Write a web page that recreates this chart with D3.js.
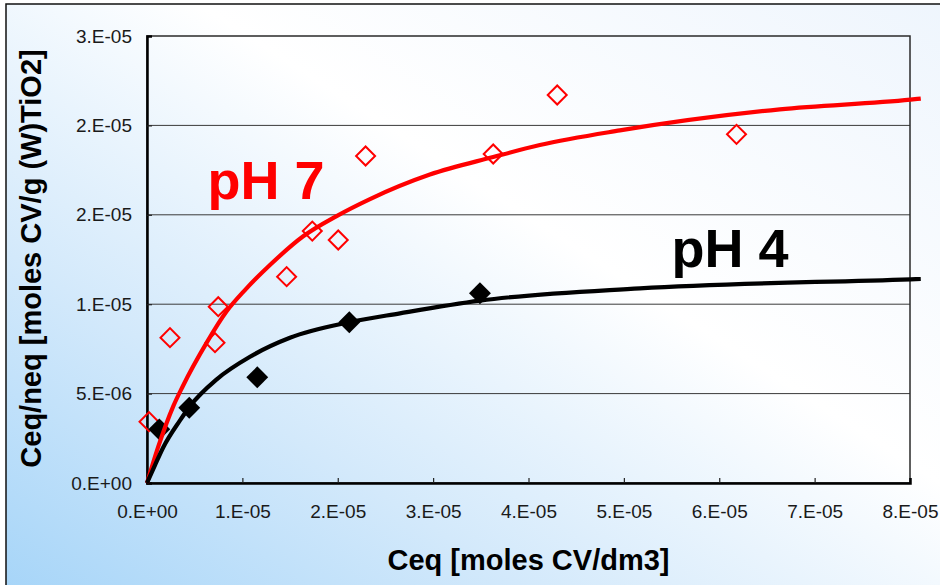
<!DOCTYPE html>
<html><head><meta charset="utf-8">
<script src="https://cdn.jsdelivr.net/npm/d3@7"></script>
<style>html,body{margin:0;padding:0;background:#fff;} svg{display:block;}</style>
</head><body><svg id="c" width="940" height="585"></svg>
<script>
// ---- data ----
const xTickValues = [0, 1e-5, 2e-5, 3e-5, 4e-5, 5e-5, 6e-5, 7e-5, 8e-5];
const xTickLabels = ["0.E+00","1.E-05","2.E-05","3.E-05","4.E-05","5.E-05","6.E-05","7.E-05","8.E-05"];
const yTickValues = [0, 5e-6, 1e-5, 1.5e-5, 2e-5, 2.5e-5];
const yTickLabels = ["0.E+00","5.E-06","1.E-05","2.E-05","2.E-05","3.E-05"];

// measured points, pH 7 (open red diamonds)
const ph7Ceq = [2.1e-7, 2.41e-6, 7.13e-6, 7.47e-6, 1.464e-5, 1.733e-5, 2.005e-5, 2.292e-5, 3.630e-5, 4.301e-5, 6.181e-5];
const ph7Q   = [3.43e-6, 8.13e-6, 7.85e-6, 9.86e-6, 1.154e-5, 1.409e-5, 1.359e-5, 1.829e-5, 1.840e-5, 2.170e-5, 1.950e-5];
// measured points, pH 4 (filled black diamonds)
const ph4Ceq = [1.29e-6, 4.43e-6, 1.156e-5, 2.121e-5, 3.491e-5];
const ph4Q   = [3.00e-6, 4.21e-6, 5.91e-6, 8.99e-6, 1.061e-5];

// fitted curves
const fit7Ceq = [0, 1.18e-6, 2.76e-6, 3.74e-6, 6.26e-6, 8.35e-6, 1.027e-5, 1.289e-5, 1.638e-5, 1.988e-5, 2.338e-5, 2.966e-5, 3.630e-5, 4.119e-5, 4.958e-5, 6.635e-5, 8.005e-5, 8.113e-5];
const fit7Q   = [0, 2.03e-6, 4.3e-6, 5.4e-6, 7.85e-6, 9.6e-6, 1.079e-5, 1.219e-5, 1.380e-5, 1.493e-5, 1.588e-5, 1.725e-5, 1.823e-5, 1.890e-5, 1.972e-5, 2.090e-5, 2.144e-5, 2.150e-5];
const fit4Ceq = [0, 8.4e-7, 1.71e-6, 3.46e-6, 4.51e-6, 7.31e-6, 1.080e-5, 1.499e-5, 2.121e-5, 2.652e-5, 3.491e-5, 5.168e-5, 8.005e-5, 8.113e-5];
const fit4Q   = [0, 1.0e-6, 2.0e-6, 3.5e-6, 4.3e-6, 5.8e-6, 7.06e-6, 8.12e-6, 8.99e-6, 9.49e-6, 1.020e-5, 1.089e-5, 1.139e-5, 1.141e-5];

const yTitle = "Ceq/neq [moles CV/g (W)TiO2]";
const xTitle = "Ceq [moles CV/dm3]";
const label7 = "pH 7";
const label4 = "pH 4";

// ---- drawing ----
const FONT = "'Liberation Sans', Arial, Helvetica, sans-serif";
const svg = d3.select("#c");
const defs = svg.append("defs");
const g = defs.append("linearGradient").attr("id","bg")
  .attr("x1",0).attr("y1",1).attr("x2",1).attr("y2",0);
[[0,"#a2d3f8"],[0.3,"#d3e9fb"],[0.6,"#ffffff"],[1,"#eef5fd"]].forEach(s=>
  g.append("stop").attr("offset",s[0]).attr("stop-color",s[1]));

svg.append("rect").attr("x",6).attr("y",4).attr("width",960).attr("height",620)
  .attr("fill","url(#bg)").attr("stroke","#111").attr("stroke-width",1.5);

const L = 147, R = 910, T = 36, B = 483;
const x = d3.scaleLinear().domain([0, 8e-5]).range([L, R]);
const y = d3.scaleLinear().domain([0, 2.5e-5]).range([B, T]);

// gridlines
svg.append("g").selectAll("line").data(yTickValues.slice(1, -1)).join("line")
  .attr("x1", L).attr("x2", R).attr("y1", d=>y(d)).attr("y2", d=>y(d))
  .attr("stroke", "#3a3a3a").attr("stroke-width", 1);

// plot border (top/right)
svg.append("rect").attr("x", L).attr("y", T).attr("width", R - L).attr("height", B - T)
  .attr("fill", "none").attr("stroke", "#2a2a2a").attr("stroke-width", 1.5);

// axes
const yAxis = d3.axisLeft(y).tickValues(yTickValues).tickFormat((d,i)=>yTickLabels[i])
  .tickSize(-5).tickPadding(15);
const xAxis = d3.axisBottom(x).tickValues(xTickValues).tickFormat((d,i)=>xTickLabels[i])
  .tickSize(-5).tickPadding(22);

const gy = svg.append("g").attr("transform", `translate(${L},0)`).call(yAxis);
const gx = svg.append("g").attr("transform", `translate(0,${B})`).call(xAxis);
[gx, gy].forEach(a => {
  a.select(".domain").attr("stroke", "#000").attr("stroke-width", 2.5);
  a.selectAll(".tick line").attr("stroke", "#222").attr("stroke-width", 1.2);
  a.selectAll(".tick text").attr("font-family", FONT).attr("font-size", 19).attr("fill", "#1a1a1a");
});
gy.selectAll(".tick").filter(d => d === 0 || d === 2.5e-5).select("line").remove();
gx.selectAll(".tick").filter(d => d === 0 || d === 8e-5).select("line").remove();

// markers
const sq = (area) => d3.symbol().type(d3.symbolSquare).size(area)();
const pts7 = ph7Ceq.map((c,i)=>[c, ph7Q[i]]);
const pts4 = ph4Ceq.map((c,i)=>[c, ph4Q[i]]);

svg.append("g").selectAll("path").data(pts7).join("path")
  .attr("d", sq(180))
  .attr("transform", d=>`translate(${x(d[0])},${y(d[1])}) rotate(45)`)
  .attr("fill", "none").attr("stroke", "#ff0000").attr("stroke-width", 2);

svg.append("g").selectAll("path").data(pts4).join("path")
  .attr("d", sq(240))
  .attr("transform", d=>`translate(${x(d[0])},${y(d[1])}) rotate(45)`)
  .attr("fill", "#000");

// fitted curves
const line = d3.line().x(d=>x(d[0])).y(d=>y(d[1])).curve(d3.curveMonotoneX);
svg.append("path").datum(fit7Ceq.map((c,i)=>[c, fit7Q[i]]))
  .attr("d", line).attr("fill", "none").attr("stroke", "#ff0000").attr("stroke-width", 4.2);
svg.append("path").datum(fit4Ceq.map((c,i)=>[c, fit4Q[i]]))
  .attr("d", line).attr("fill", "none").attr("stroke", "#000").attr("stroke-width", 4.2);

// series labels
svg.append("text").attr("x", 207.5).attr("y", 199).text(label7)
  .attr("font-family", FONT).attr("font-weight", "bold").attr("font-size", 54).attr("fill", "#ff0000");
svg.append("text").attr("x", 671.5).attr("y", 266.5).text(label4)
  .attr("font-family", FONT).attr("font-weight", "bold").attr("font-size", 54).attr("fill", "#000");

// axis titles
svg.append("text").attr("transform", "translate(41,258.5) rotate(-90)")
  .attr("text-anchor", "middle").text(yTitle)
  .attr("font-family", FONT).attr("font-weight", "bold").attr("font-size", 29).attr("fill", "#000");
svg.append("text").attr("x", (L + R) / 2).attr("y", 570)
  .attr("text-anchor", "middle").text(xTitle)
  .attr("font-family", FONT).attr("font-weight", "bold").attr("font-size", 29).attr("fill", "#000");
</script></body></html>
